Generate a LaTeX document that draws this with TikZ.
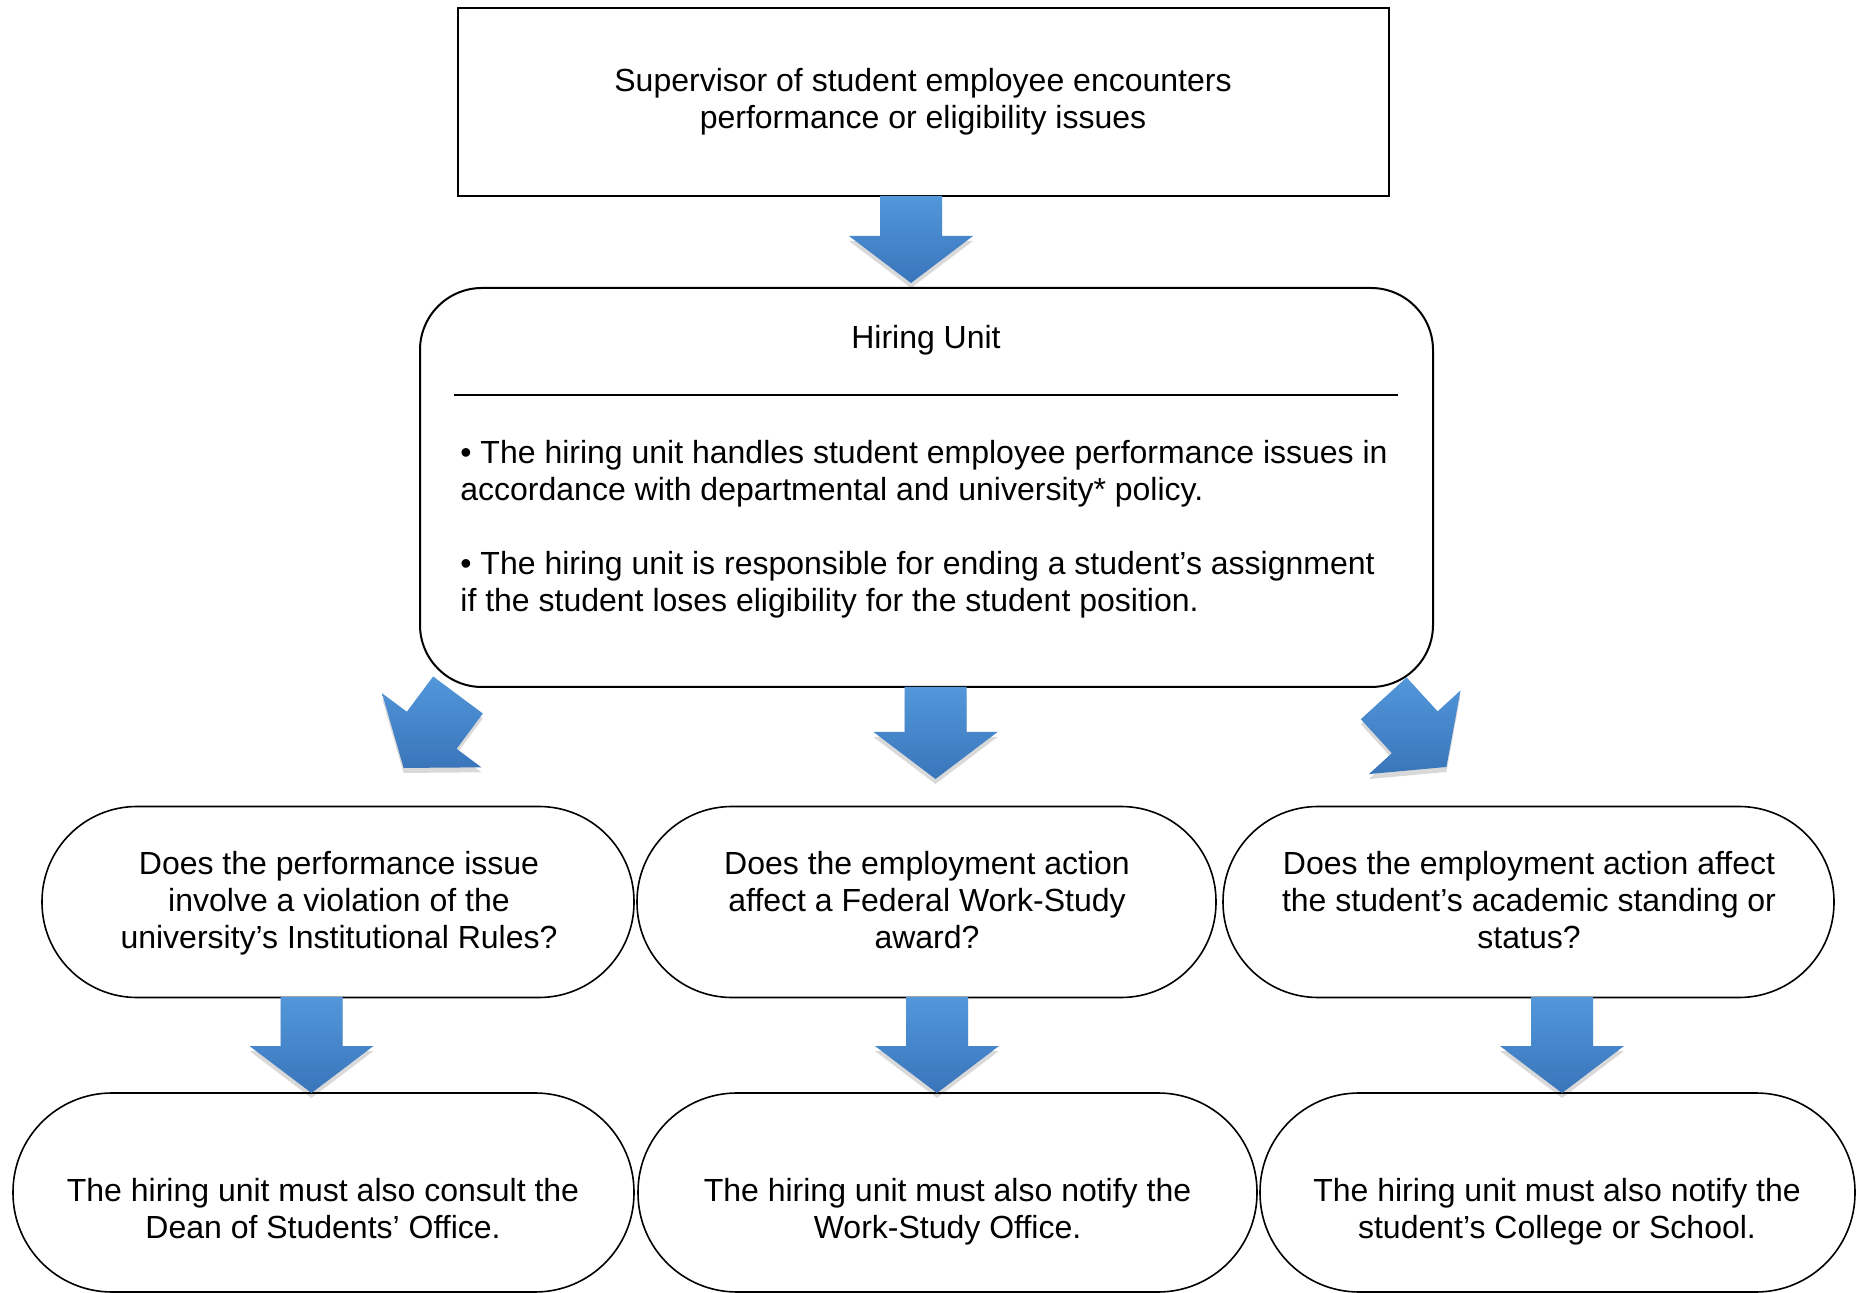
\documentclass[tikz,border=0pt]{standalone}
\usepackage{fontspec}
\setmainfont{Liberation Sans}
\usetikzlibrary{shadows}
\definecolor{arrtop}{RGB}{82,151,218}
\definecolor{arrbot}{RGB}{58,117,186}
\tikzset{
  txt/.style={font=\fontsize{16}{18.5}\selectfont, align=center, inner sep=0pt},
  sqbox/.style={draw=black, line width=1pt, rectangle, inner sep=0pt},
  hubox/.style={draw=black, line width=1pt, rectangle, rounded corners=31pt, inner sep=0pt},
  stadium/.style={draw=black, line width=0.8pt, rectangle, inner sep=0pt},
  arrowfill/.style={top color=arrtop, bottom color=arrbot, draw=none,
     drop shadow={shadow xshift=0pt, shadow yshift=-2.5pt, opacity=0.15, fill=black}}
}
\newcommand\blkarrow[4]{%
  \begin{scope}[shift={(#1,#2)}, rotate=#3]
    \path[arrowfill] (-31,0) -- (31,0) -- (31,#4) -- (62,#4) -- (0,#4+47) -- (-62,#4) -- (-31,#4) -- cycle;
  \end{scope}}
\begin{document}
\begin{tikzpicture}[x=0.5pt, y=-0.5pt]
\useasboundingbox (0,0) rectangle (1864,1293);

% top box
\node[sqbox, minimum width=465.5pt, minimum height=94pt] (sup) at (923,102) {};
\node[txt] (supt) at (923,102) {Supervisor of student employee encounters\\performance or eligibility issues};

% hiring unit
\node[hubox, minimum width=506.5pt, minimum height=199.5pt] (hu) at (926.5,487.5) {};
\node[txt] (hut) at (926,340.5) {Hiring Unit};
\coordinate (sepL) at (454,395);
\coordinate (sepR) at (1398,395);
\draw[line width=0.9pt] (sepL) -- (sepR);
\node[txt, align=left, anchor=west] (hub1) at (460,473.5) {• The hiring unit handles student employee performance issues in\\accordance with departmental and university* policy.};
\node[txt, align=left, anchor=west] (hub2) at (460,584.5) {• The hiring unit is responsible for ending a student’s assignment\\if the student loses eligibility for the student position.};

% row 1
\node[stadium, rounded corners=47.5pt, minimum width=296pt, minimum height=95.5pt] (q1) at (338,902) {};
\node[stadium, rounded corners=47.5pt, minimum width=289.5pt, minimum height=95.5pt] (q2) at (926.5,902) {};
\node[stadium, rounded corners=47.5pt, minimum width=305.5pt, minimum height=95.5pt] (q3) at (1528.5,902) {};
\node[txt] (q1t) at (339,903.5) {Does the performance issue\\involve a violation of the\\university’s Institutional Rules?};
\node[txt] (q2t) at (927,900.5) {Does the employment action\\affect a Federal Work-Study\\award?};
\node[txt] (q3t) at (1529,900.5) {Does the employment action affect\\the student’s academic standing or\\status?};

% row 2
\node[stadium, rounded corners=49.5pt, minimum width=310.5pt, minimum height=99.5pt] (r1) at (323.5,1192.5) {};
\node[stadium, rounded corners=49.5pt, minimum width=309.5pt, minimum height=99.5pt] (r2) at (947.5,1192.5) {};
\node[stadium, rounded corners=49.5pt, minimum width=297.5pt, minimum height=99.5pt] (r3) at (1557.5,1192.5) {};
\node[txt] (r1t) at (323,1209) {The hiring unit must also consult the\\Dean of Students’ Office.};
\node[txt] (r2t) at (947.5,1211.5) {The hiring unit must also notify the\\Work-Study Office.};
\node[txt] (r3t) at (1557,1211.5) {The hiring unit must also notify the\\student’s College or School.};

% block arrows
\blkarrow{911}{196}{0}{40}
\blkarrow{458}{695}{-36.7}{44}
\blkarrow{935.5}{687}{0}{45}
\blkarrow{1383.7}{698.3}{42.4}{46}
\blkarrow{311.5}{997}{0}{49}
\blkarrow{937}{997}{0}{49}
\blkarrow{1562}{997}{0}{49}
\end{tikzpicture}
\end{document}
